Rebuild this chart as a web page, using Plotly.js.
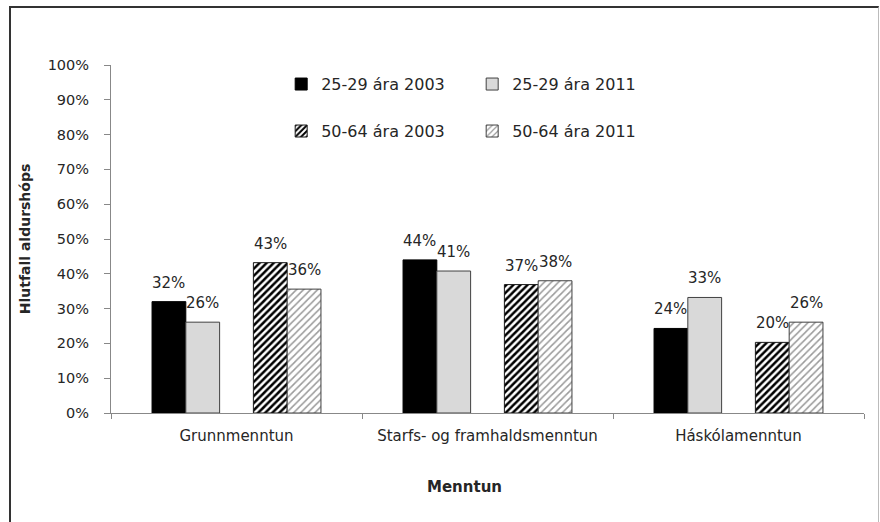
<!DOCTYPE html>
<html>
<head>
<meta charset="utf-8">
<script src="https://cdn.plot.ly/plotly-3.0.1.min.js"></script>
<style>
html,body{margin:0;padding:0;background:#fff;}
#wrap{position:relative;width:880px;height:522px;overflow:hidden;}
#chart{position:absolute;left:0;top:0;width:880px;height:522px;}
#frame{position:absolute;left:9px;top:6px;width:867px;height:530px;border-left:2px solid #333;border-top:2px solid #333;border-right:1px solid #bbb;pointer-events:none;}
</style>
</head>
<body>
<div id="wrap"><div id="chart"></div><div id="frame"></div></div>
<script>
// Data
var categories = ["Grunnmenntun", "Starfs- og framhaldsmenntun", "Háskólamenntun"];
var seriesNames = ["25-29 ára 2003", "25-29 ára 2011", "50-64 ára 2003", "50-64 ára 2011"];
var young2003 = [0.320, 0.440, 0.243];
var young2011 = [0.261, 0.408, 0.332];
var old2003 = [0.432, 0.369, 0.203];
var old2011 = [0.356, 0.380, 0.261];
var yTicks = [0, 0.1, 0.2, 0.3, 0.4, 0.5, 0.6, 0.7, 0.8, 0.9, 1.0];
var xTitle = "Menntun";
var yTitle = "Hlutfall aldurshóps";

var FONT = "DejaVu Sans, Verdana, sans-serif";
var TXT = "#262626";
var W = 880, H = 522;
var margin = {l: 111, r: 16, t: 65, b: 109};
var bargap = 0.327;
var nSlots = 5;
var catPx = (W - margin.l - margin.r) / categories.length;
var slotPx = catPx * (1 - bargap) / nSlots;

var styles = [
  {fill: "#000000", line: "#000000", pattern: null},
  {fill: "#d9d9d9", line: "#404040", pattern: null},
  {fill: "#ffffff", line: "#1a1a1a", pattern: {shape: "/", fgcolor: "#000000", bgcolor: "#ffffff", size: 5, solidity: 0.5}},
  {fill: "#ffffff", line: "#404040", pattern: {shape: "/", fgcolor: "#9a9a9a", bgcolor: "#ffffff", size: 5, solidity: 0.3}}
];
var seriesVals = [young2003, young2011, old2003, old2011];
var slotIndex = [0, 1, 3, 4];
var legendIds = ["legend", "legend", "legend2", "legend2"];

var traces = [];
var annotations = [];
for (var i = 0; i < 4; i++) {
  var st = styles[i];
  var mk = {color: st.fill, line: {color: st.line, width: 1}};
  if (st.pattern) { mk.pattern = st.pattern; }
  traces.push({
    type: "bar", name: seriesNames[i], x: categories, y: seriesVals[i],
    marker: mk, legend: legendIds[i], hoverinfo: "x+y+name"
  });
  for (var j = 0; j < categories.length; j++) {
    annotations.push({
      x: categories[j], y: seriesVals[i][j], xref: "x", yref: "y",
      xshift: (slotIndex[i] - 2) * slotPx, yshift: 19,
      text: Math.round(seriesVals[i][j] * 100) + "%",
      showarrow: false, xanchor: "center", yanchor: "middle",
      font: {family: FONT, size: 15, color: TXT}
    });
  }
}
// x-axis title (sits slightly left of centre in the original)
annotations.push({
  text: "<b>" + xTitle + "</b>", xref: "paper", yref: "paper",
  x: 0.47, y: -0.2126, xanchor: "center", yanchor: "middle", showarrow: false,
  font: {family: FONT, size: 15, color: TXT}
});
// empty spacer series in the middle slot
traces.splice(2, 0, {
  type: "bar", name: "", x: categories, y: categories.map(function(){return null;}),
  showlegend: false, hoverinfo: "skip", marker: {color: "rgba(0,0,0,0)"}
});

var legendCommon = {
  orientation: "h", xanchor: "left", yanchor: "middle",
  entrywidth: 146, entrywidthmode: "pixels", itemwidth: 30,
  font: {family: FONT, size: 16, color: TXT}, bgcolor: "rgba(0,0,0,0)",
  traceorder: "normal", itemclick: false, itemdoubleclick: false
};

var layout = {
  width: W, height: H, margin: margin,
  paper_bgcolor: "#ffffff", plot_bgcolor: "#ffffff",
  barmode: "group", bargap: bargap, bargroupgap: 0,
  font: {family: FONT, color: TXT},
  showlegend: true,
  legend: Object.assign({}, legendCommon, {x: 0.226, y: 0.945}),
  legend2: Object.assign({}, legendCommon, {x: 0.226, y: 0.81}),
  xaxis: {
    type: "category", showline: true, linecolor: "#888888", linewidth: 1,
    ticks: "outside", tickson: "boundaries", ticklen: 5, tickcolor: "#888888",
    tickfont: {family: FONT, size: 15, color: TXT}, ticklabelstandoff: 9,
    showgrid: false, zeroline: false, fixedrange: true
  },
  yaxis: {
    range: [0, 1], tickvals: yTicks, tickformat: ".0%",
    showline: true, linecolor: "#888888", linewidth: 1,
    ticks: "outside", ticklen: 6, tickcolor: "#888888",
    tickfont: {family: FONT, size: 14.5, color: TXT}, ticklabelstandoff: 12,
    title: {text: "<b>" + yTitle + "</b>", font: {family: FONT, size: 14, color: TXT}, standoff: 13},
    showgrid: false, zeroline: false, fixedrange: true
  },
  annotations: annotations
};

Plotly.newPlot("chart", traces, layout, {displayModeBar: false, staticPlot: true});
</script>
</body>
</html>
